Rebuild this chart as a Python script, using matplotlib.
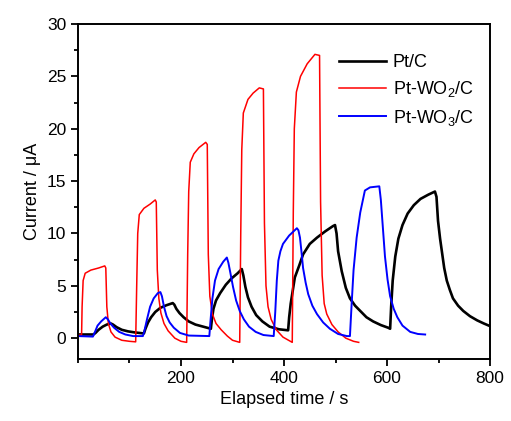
import numpy as np
import matplotlib
matplotlib.use("Agg")
import matplotlib.pyplot as plt
from matplotlib.ticker import MultipleLocator

plt.rcParams['font.family'] = ['Liberation Sans', 'DejaVu Sans']
plt.rcParams['mathtext.default'] = 'regular'

ptc_t = [0, 30, 34, 40, 48, 56, 64, 68, 75, 85, 97, 110, 128, 131, 136, 142, 150, 160, 172, 184, 187,
         191, 197, 205, 215, 228, 243, 258, 260, 263, 268, 276, 287, 298, 310, 318, 321, 325, 330, 337,
         346, 358, 372, 390, 408, 410, 413, 421, 430, 437, 450, 464, 480, 495, 499, 502, 505, 512, 520,
         528, 538, 548, 560, 573, 588, 602, 606, 608, 611, 616, 622, 630, 640, 652, 665, 680, 693, 696,
         699, 703, 707, 711, 716, 722, 728, 738, 748, 761, 775, 788, 800]
ptc_i = [0.35, 0.35, 0.5, 0.8, 1.1, 1.3, 1.4, 1.3, 1.05, 0.8, 0.65, 0.55, 0.45, 0.9, 1.5, 2.0, 2.5, 2.9, 3.15, 3.35, 3.2,
         2.8, 2.4, 2.0, 1.6, 1.3, 1.1, 0.9, 1.8, 2.8, 3.6, 4.3, 5.1, 5.7, 6.2, 6.6, 6.0, 4.9, 3.9, 3.0,
         2.2, 1.6, 1.1, 0.85, 0.75, 2.0, 3.3, 5.8, 7.0, 8.0, 9.0, 9.6, 10.2, 10.7, 10.8, 10.0, 8.3, 6.4, 4.8,
         3.8, 3.1, 2.6, 2.0, 1.6, 1.25, 1.0, 0.9, 3.0, 5.5, 7.8, 9.5, 10.8, 11.9, 12.7, 13.3, 13.7, 14.0, 13.5,
         11.2, 9.5, 8.1, 6.7, 5.5, 4.6, 3.8, 3.1, 2.6, 2.1, 1.7, 1.4, 1.15]

wo2_t = [0, 7, 8, 10, 14, 25, 40, 52, 54, 56, 59, 64, 72, 85, 100, 112, 114, 116, 119, 128, 140, 150,
         152, 154, 157, 161, 167, 175, 188, 200, 211, 213, 215, 218, 225, 235, 248, 251, 253, 256, 261,
         268, 278, 290, 300, 314, 316, 318, 321, 330, 340, 352, 360, 362, 365, 369, 375, 385, 398, 416,
         418, 420, 424, 432, 445, 460, 469, 471, 474, 478, 483, 493, 505, 520, 535, 545]
wo2_i = [0.3, 0.3, 3, 5.5, 6.2, 6.5, 6.7, 6.9, 6.7, 3.0, 1.4, 0.6, 0.1, -0.2, -0.3, -0.35, 5, 10, 11.8, 12.4, 12.8, 13.2,
         13.0, 6.5, 3.8, 2.4, 1.4, 0.7, 0.0, -0.3, -0.4, 8, 14, 16.8, 17.6, 18.2, 18.7, 18.5, 8, 4.0, 2.3,
         1.4, 0.8, 0.2, -0.2, -0.4, 10, 18, 21.5, 22.8, 23.4, 23.9, 23.8, 11, 5, 3.0, 1.8, 0.8, 0.1, -0.4,
         12, 20, 23.5, 25, 26.2, 27.1, 27.0, 13, 6, 3.3, 2.3, 1.3, 0.6, 0.0, -0.3, -0.4]

wo3_t = [0, 29, 33, 38, 45, 54, 58, 63, 70, 80, 92, 107, 126, 129, 134, 140, 147, 155, 160, 163, 167,
         172, 178, 186, 198, 215, 255, 257, 261, 266, 273, 282, 289, 292, 296, 301, 307, 314, 322, 332,
         345, 360, 380, 383, 386, 389, 393, 398, 410, 425, 428, 431, 434, 437, 442, 447, 455, 464, 476,
         489, 505, 522, 528, 531, 535, 541, 548, 557, 567, 585, 588, 592, 596, 601, 606, 613, 620, 630,
         645, 660, 674]
wo3_i = [0.2, 0.15, 0.6, 1.2, 1.6, 2.0, 1.8, 1.4, 1.0, 0.6, 0.35, 0.2, 0.2, 0.7, 1.8, 3.0, 3.8, 4.3, 4.4, 4.0, 3.0,
         2.1, 1.5, 1.0, 0.5, 0.25, 0.2, 1.5, 3.8, 5.5, 6.6, 7.3, 7.7, 7.2, 6.2, 4.9, 3.6, 2.6, 1.8, 1.1,
         0.6, 0.3, 0.2, 2.5, 5.5, 7.4, 8.3, 9.0, 9.8, 10.5, 10.3, 9.6, 8.2, 6.7, 5.3, 4.2, 3.1, 2.3, 1.5,
         0.9, 0.4, 0.2, 0.2, 3, 6.5, 9.6, 12.0, 14.1, 14.4, 14.5, 13.2, 10.5, 7.8, 5.6, 4.0, 2.8, 2.0, 1.2,
         0.6, 0.4, 0.35]

fig = plt.figure(figsize=(5.11, 4.21), dpi=100)
ax = fig.add_axes([0.1526, 0.147, 0.8064, 0.796])

ax.plot(ptc_t, ptc_i, color='black', lw=1.9, label='Pt/C')
ax.plot(wo2_t, wo2_i, color='#ff0000', lw=1.1, label='Pt-WO$_2$/C')
ax.plot(wo3_t, wo3_i, color='#0000ff', lw=1.4, label='Pt-WO$_3$/C')

ax.set_xlim(0, 800)
ax.set_ylim(-2, 30)
ax.set_xticks([200, 400, 600, 800])
ax.xaxis.set_minor_locator(MultipleLocator(100))
ax.yaxis.set_major_locator(MultipleLocator(5))
ax.yaxis.set_minor_locator(MultipleLocator(2.5))
ax.tick_params(which='both', direction='out', top=False, right=False, labelsize=12.5, width=1.3)
ax.tick_params(which='major', length=5)
ax.tick_params(which='minor', length=3)
for s in ax.spines.values():
    s.set_linewidth(1.4)

ax.set_xlabel('Elapsed time / s', fontsize=13)
ax.set_ylabel('Current / μA', fontsize=13)

ax.legend(loc='upper right', bbox_to_anchor=(1.0, 0.958), frameon=False, fontsize=13,
          handlelength=2.6, labelspacing=0.45, handletextpad=0.4)

fig.savefig('out.png', dpi=100)
